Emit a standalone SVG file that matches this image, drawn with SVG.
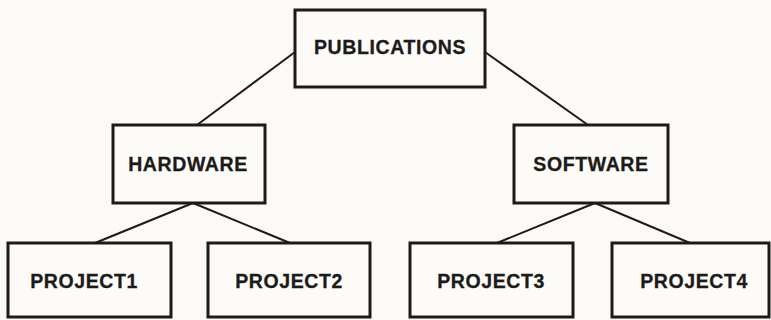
<svg xmlns="http://www.w3.org/2000/svg" width="771" height="320" viewBox="0 0 771 320">
  <style>
    .box { fill: #fcfbf8; stroke: #1c1b1a; stroke-width: 3; }
    .label { font-family: "Liberation Sans", Arial, sans-serif; font-weight: bold; font-size: 19.5px; letter-spacing: 0.6px; fill: #1c1b1a; stroke: #1c1b1a; stroke-width: 0.3; text-anchor: middle; }
    .edge { stroke: #1c1b1a; stroke-width: 2; fill: none; }
  </style>
  <rect x="0" y="0" width="771" height="320" fill="#fbfaf6"/>

  <g id="connectors">
    <line class="edge" x1="295" y1="52" x2="197" y2="125"/>
    <line class="edge" x1="485" y1="52" x2="588" y2="125"/>
    <line class="edge" x1="193" y1="203" x2="95" y2="243"/>
    <line class="edge" x1="193" y1="203" x2="290" y2="243"/>
    <line class="edge" x1="595" y1="203" x2="497" y2="243"/>
    <line class="edge" x1="595" y1="203" x2="690" y2="243"/>
  </g>

  <g id="publications">
    <rect class="box" x="295" y="10" width="190" height="77"/>
    <text class="label" x="390" y="54">PUBLICATIONS</text>
  </g>
  <g id="hardware">
    <rect class="box" x="113" y="125" width="152" height="78"/>
    <text class="label" x="188" y="171">HARDWARE</text>
  </g>
  <g id="software">
    <rect class="box" x="514" y="125" width="154" height="78"/>
    <text class="label" x="591" y="171">SOFTWARE</text>
  </g>
  <g id="project1">
    <rect class="box" x="8" y="243" width="163" height="74"/>
    <text class="label" x="84" y="288">PROJECT1</text>
  </g>
  <g id="project2">
    <rect class="box" x="208" y="243" width="162" height="74"/>
    <text class="label" x="289" y="288">PROJECT2</text>
  </g>
  <g id="project3">
    <rect class="box" x="410" y="243" width="163" height="74"/>
    <text class="label" x="491" y="288">PROJECT3</text>
  </g>
  <g id="project4">
    <rect class="box" x="612" y="243" width="157" height="74"/>
    <text class="label" x="694" y="288">PROJECT4</text>
  </g>
</svg>
